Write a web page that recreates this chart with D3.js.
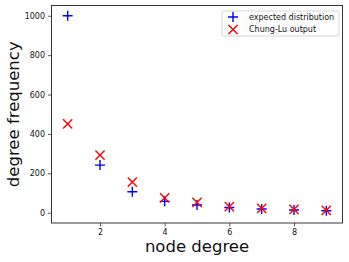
<!DOCTYPE html>
<html>
<head>
<meta charset="utf-8">
<script src="https://cdn.jsdelivr.net/npm/d3@7"></script>
<style>
  body { margin: 0; background: #fff; }
  text { font-family: "DejaVu Sans", sans-serif; }
</style>
</head>
<body>
<svg id="chart" width="349" height="262"></svg>
<script>
// degree distribution values
const degrees = [1, 2, 3, 4, 5, 6, 7, 8, 9]
const expected = [1000, 242, 107, 58, 39, 27, 19, 14, 10]
const chungLu = [451, 293, 155, 76, 53, 31, 22, 17, 12]
const xTicks = [2, 4, 6, 8]
const yTicks = [0, 200, 400, 600, 800, 1000]

const svg = d3.select('#chart')
const plotLeft = 51.5, plotRight = 342.5, plotTop = 5.5, plotBottom = 223

const x = d3.scaleLinear()
    .domain([0.5, 9.5])
    .range([plotLeft, plotRight])
const y = d3.scaleLinear()
    .domain([-52, 1052])
    .range([plotBottom, plotTop])

// x axis
const xaxis = d3.axisBottom(x).tickValues(xTicks).tickFormat(d3.format('d')).tickSize(3.5).tickPadding(3)
svg.append('g')
    .attr('transform', `translate(0, ${plotBottom})`)
    .call(xaxis)
    .call(g => g.select('.domain').remove())
    .selectAll('text').attr('font-size', 8).attr('fill', '#111')

// y axis
const yaxis = d3.axisLeft(y).tickValues(yTicks).tickFormat(d3.format('d')).tickSize(3.5).tickPadding(3)
svg.append('g')
    .attr('transform', `translate(${plotLeft}, 0)`)
    .call(yaxis)
    .call(g => g.select('.domain').remove())
    .selectAll('text').attr('font-size', 8).attr('fill', '#111')

svg.selectAll('.tick line').attr('stroke', '#333').attr('stroke-width', 0.8)

// frame
svg.append('rect')
    .attr('x', plotLeft).attr('y', plotTop)
    .attr('width', plotRight - plotLeft).attr('height', plotBottom - plotTop)
    .attr('fill', 'none').attr('stroke', '#222').attr('stroke-width', 0.9)

const pts = svg.append('g')

// blue plus markers
const s = 5
pts.selectAll('.plus')
    .data(degrees.map((d, i) => [d, expected[i]]))
    .enter()
    .append('path')
        .attr('class', 'plus')
        .attr('d', d => {
            const cx = x(d[0]), cy = y(d[1])
            return `M${cx - s},${cy}H${cx + s}M${cx},${cy - s}V${cy + s}`
        })
        .attr('stroke', 'blue')
        .attr('stroke-width', 1.4)

// red x markers
const t = 4.6
pts.selectAll('.cross')
    .data(degrees.map((d, i) => [d, chungLu[i]]))
    .enter()
    .append('path')
        .attr('class', 'cross')
        .attr('d', d => {
            const cx = x(d[0]), cy = y(d[1])
            return `M${cx - t},${cy - t}L${cx + t},${cy + t}M${cx - t},${cy + t}L${cx + t},${cy - t}`
        })
        .attr('stroke', 'red')
        .attr('stroke-width', 1.4)

// legend
const lg = svg.append('g').attr('transform', 'translate(222, 11)')
lg.append('rect')
    .attr('width', 117).attr('height', 25).attr('rx', 2)
    .attr('fill', '#fff').attr('stroke', '#ccc').attr('stroke-width', 0.8)
lg.append('path')
    .attr('d', `M${11 - s},6H${11 + s}M11,${6 - s}V${6 + s}`)
    .attr('stroke', 'blue').attr('stroke-width', 1.4)
lg.append('path')
    .attr('d', `M${11 - t},${18.5 - t}L${11 + t},${18.5 + t}M${11 - t},${18.5 + t}L${11 + t},${18.5 - t}`)
    .attr('stroke', 'red').attr('stroke-width', 1.4)
lg.append('text').attr('x', 27).attr('y', 8.8).attr('font-size', 8).attr('fill', '#111')
    .text('expected distribution')
lg.append('text').attr('x', 27).attr('y', 21.3).attr('font-size', 8).attr('fill', '#111')
    .text('Chung-Lu output')

// axis labels
svg.append('text')
    .attr('x', (plotLeft + plotRight) / 2).attr('y', 252)
    .attr('text-anchor', 'middle').attr('font-size', 16.5).attr('fill', '#111')
    .text('node degree')
svg.append('text')
    .attr('transform', `translate(19, ${(plotTop + plotBottom) / 2}) rotate(-90)`)
    .attr('text-anchor', 'middle').attr('font-size', 16.5).attr('fill', '#111')
    .text('degree frequency')
</script>
</body>
</html>
